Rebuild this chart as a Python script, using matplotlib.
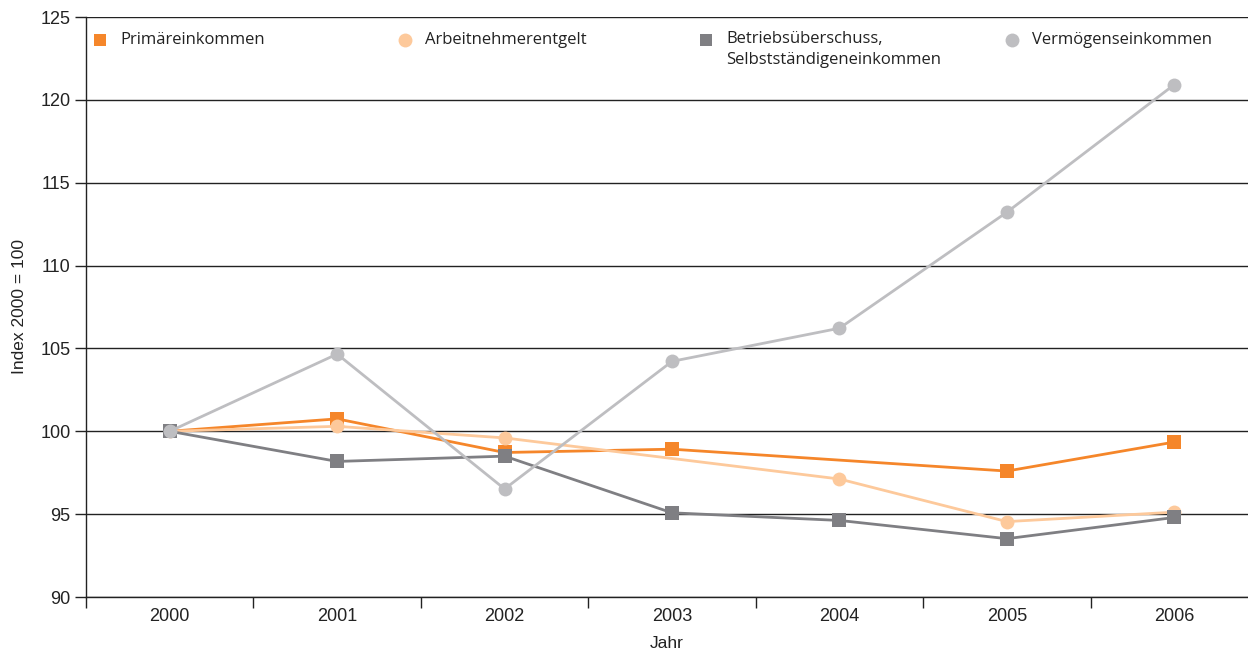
import numpy as np
import matplotlib
matplotlib.use("Agg")
import matplotlib.pyplot as plt

years = ["2000", "2001", "2002", "2003", "2004", "2005", "2006"]
primaer = [100.0, 100.75, 98.72, 98.92, np.nan, 97.6, 99.35]
arbeitnehmer = [100.0, 100.3, 99.6, np.nan, 97.12, 94.55, 95.12]
betrieb = [100.0, 98.18, 98.5, 95.08, 94.62, 93.52, 94.8]
vermoegen = [100.0, 104.66, 96.52, 104.22, 106.22, 113.22, 120.92]

labels = ["Primäreinkommen", "Arbeitnehmerentgelt",
          "Betriebsüberschuss,\nSelbstständigeneinkommen", "Vermögenseinkommen"]
colors = ["#F5862A", "#FDC99B", "#7F7F83", "#BEBEC1"]
markers = ["s", "o", "s", "o"]
series = [primaer, arbeitnehmer, betrieb, vermoegen]

fig = plt.figure(figsize=(12.48, 6.54), dpi=100)
ax = fig.add_axes([86/1248, 1-597/654, 1-86/1248, (597-17)/654])

x = np.arange(len(years))
for i, (vals, c, m) in enumerate(zip(series, colors, markers)):
    v = np.array(vals, dtype=float)
    ok = ~np.isnan(v)
    ax.plot(x[ok], v[ok], color=c, lw=2.0, marker=m,
            markersize=10.5 if m == "s" else 10, markeredgewidth=0,
            zorder=3 + i, clip_on=False)

ax.set_ylim(90, 125)
ax.set_xlim(-0.5, 6.44)
ax.set_yticks(np.arange(90, 126, 5))
ax.set_xticks(x)
ax.set_xticklabels(years)
ax.set_xticks(np.arange(-0.5, 6.5, 1.0), minor=True)
ax.tick_params(axis="x", which="major", length=0, pad=8, labelsize=13)
ax.tick_params(axis="x", which="minor", length=8, width=1, color="#222222", direction="out")
ax.tick_params(axis="y", length=8, width=1, color="#222222", labelsize=13, pad=3)
for lbl in ax.get_xticklabels() + ax.get_yticklabels():
    lbl.set_family("Liberation Sans")
    lbl.set_color("#222222")

ax.grid(axis="y", color="#222222", lw=1.0, zorder=1)
ax.set_axisbelow(True)
for s in ["top", "right"]:
    ax.spines[s].set_visible(False)
for s in ["left", "bottom"]:
    ax.spines[s].set_color("#222222")
    ax.spines[s].set_linewidth(1.0)

ax.set_ylabel("Index 2000 = 100", family="Liberation Sans", fontsize=12.5, color="#222222", labelpad=10)
ax.set_xlabel("Jahr", family="Liberation Sans", fontsize=12.5, color="#222222", labelpad=8)

# legend
leg_x = [100, 405, 706, 1012]
for lx, lab, c, m in zip(leg_x, labels, colors, markers):
    fig.lines.append(plt.Line2D([lx/1248], [1-40/654], transform=fig.transFigure,
                                marker=m, color=c, markersize=9 if m == "s" else 10,
                                markeredgewidth=0, linestyle="none"))
    if "\n" in lab:
        fig.text((lx+20)/1248, 1-31/654, lab, family="Open Sans", fontsize=12,
                 color="#222222", va="top", ha="left", linespacing=1.4)
    else:
        fig.text((lx+20)/1248, 1-40/654, lab, family="Open Sans", fontsize=12,
                 color="#222222", va="center", ha="left")

fig.savefig("out.png", dpi=100)
